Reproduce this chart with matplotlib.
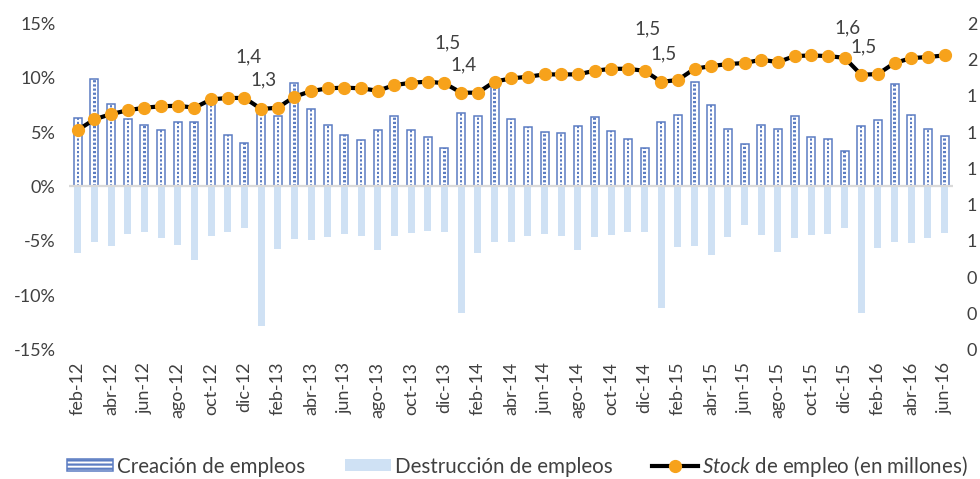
import numpy as np
import matplotlib
matplotlib.use("Agg")
import matplotlib.pyplot as plt
from matplotlib.patches import Patch
from matplotlib.ticker import FuncFormatter

plt.rcParams['font.family'] = ['Lato', 'DejaVu Sans']
plt.rcParams['mathtext.fontset'] = 'custom'
plt.rcParams['mathtext.rm'] = 'Lato'
plt.rcParams['mathtext.it'] = 'Lato:italic'
plt.rcParams['hatch.linewidth'] = 1.6

# Monthly series, feb-12 .. jun-16
meses = ['ene', 'feb', 'mar', 'abr', 'may', 'jun', 'jul', 'ago', 'sep', 'oct', 'nov', 'dic']
periodos = [f"{meses[m]}-{y % 100:02d}" for y in range(2012, 2017) for m in range(12)]
periodos = periodos[1:periodos.index('jun-16') + 1]

creacion = [6.27, 9.86, 7.56, 6.18, 5.63, 5.23, 5.90, 5.96, 7.80, 4.74, 4.03, 6.67, 6.46,
            9.49, 7.10, 5.69, 4.74, 4.28, 5.17, 6.46, 5.23, 4.52, 3.57, 6.79, 6.51,
            9.45, 6.18, 5.44, 4.98, 4.89, 5.60, 6.36, 5.14, 4.40, 3.51, 5.96, 6.55,
            9.58, 7.47, 5.32, 3.88, 5.69, 5.32, 6.51, 4.58, 4.37, 3.29, 5.60, 6.15,
            9.40, 6.61, 5.29, 4.67]

destruccion = [-6.09, -5.14, -5.50, -4.40, -4.22, -4.77, -5.38, -6.79, -4.53, -4.16, -3.79, -12.8, -5.72,
               -4.80, -4.92, -4.65, -4.34, -4.52, -5.87, -4.55, -4.25, -4.06, -4.16, -11.6, -6.15,
               -5.07, -5.14, -4.53, -4.34, -4.55, -5.81, -4.62, -4.46, -4.22, -4.16, -11.15, -5.57,
               -5.50, -6.27, -4.62, -3.57, -4.43, -6.00, -4.71, -4.43, -4.34, -3.79, -11.6, -5.63,
               -5.07, -5.17, -4.77, -4.31]

stock = [1.212, 1.271, 1.300, 1.321, 1.335, 1.343, 1.346, 1.335, 1.381, 1.389, 1.389, 1.328, 1.335,
         1.396, 1.427, 1.442, 1.446, 1.442, 1.429, 1.460, 1.473, 1.479, 1.470, 1.418, 1.418,
         1.479, 1.497, 1.506, 1.519, 1.519, 1.519, 1.539, 1.550, 1.550, 1.539, 1.478, 1.488,
         1.550, 1.565, 1.576, 1.582, 1.600, 1.587, 1.620, 1.624, 1.620, 1.611, 1.517, 1.521,
         1.582, 1.609, 1.615, 1.624]

# December / January points carrying a value label
etiquetados = ['dic-12', 'ene-13', 'dic-13', 'ene-14', 'dic-14', 'ene-15', 'dic-15', 'ene-16']
desplaz = [(4, 41), (2, 29), (3, 40), (2, 28), (3, 42), (2, 28), (3, 30), (2, 28)]

azul = '#5b7cc2'
celeste = '#cfe1f4'
naranja = '#f7a21b'
texto = '#404040'

fig = plt.figure(figsize=(9.8, 4.79), dpi=100)
ax = fig.add_axes([0.0709, 0.2704, 0.9014, 0.6805])
x = np.arange(len(periodos))
w = 0.48

ax.bar(x, destruccion, width=w * 0.9, color=celeste, linewidth=0, zorder=2)
ax.bar(x, creacion, width=w, facecolor='white', edgecolor=azul, linewidth=1.1, zorder=2)
ax.bar(x, creacion, width=w * 0.28, facecolor='none', edgecolor=azul, linewidth=0,
       hatch='----', zorder=2.1)
ax.axhline(0, color='#d9d9d9', lw=1.6, zorder=3)

ax.set_xlim(-0.5, len(periodos) - 0.5)
ax.set_ylim(-15, 15)
ax.set_yticks(np.arange(-15, 16, 5))
ax.yaxis.set_major_formatter(FuncFormatter(lambda v, p: f"{v:.0f}%"))
ax.set_xticks(x[::2])
ax.set_xticklabels(periodos[::2], rotation=90)
ax.tick_params(axis='x', length=0, pad=9, labelsize=13, colors=texto)
ax.tick_params(axis='y', length=0, pad=10, labelsize=13, colors=texto)
for s in ax.spines.values():
    s.set_visible(False)

ax2 = ax.twinx()
ax2.set_ylim(0, 1.8)
ax2.set_yticks(np.linspace(0, 1.8, 10))
ax2.yaxis.set_major_formatter(FuncFormatter(lambda v, p: f"{v:.0f}"))
ax2.tick_params(axis='y', length=0, pad=10, labelsize=13, colors=texto)
for s in ax2.spines.values():
    s.set_visible(False)

linea, = ax2.plot(x, stock, color='black', lw=3, marker='o', ms=8.5,
                  mfc=naranja, mec=naranja, zorder=4)

for per, (dx, dy) in zip(etiquetados, desplaz):
    i = periodos.index(per)
    ax2.annotate(f"{stock[i]:.1f}".replace('.', ','), (x[i], stock[i]),
                 xytext=(dx, dy), textcoords='offset pixels',
                 ha='center', va='center', fontsize=13.5, color=texto)

handles = [Patch(facecolor='white', edgecolor=azul, hatch='----', linewidth=1.1),
           Patch(facecolor=celeste, edgecolor='none'),
           linea]
labels = ['Creación de empleos', 'Destrucción de empleos',
          r'$\mathit{Stock}$ de empleo (en millones)']
fig.legend(handles, labels, loc='center', bbox_to_anchor=(0.528, 0.027), ncol=3,
           frameon=False, fontsize=14.8, handlelength=2.25, handleheight=0.55,
           handletextpad=0.2, columnspacing=1.9, labelcolor=texto)

fig.savefig('out.png', dpi=100)
